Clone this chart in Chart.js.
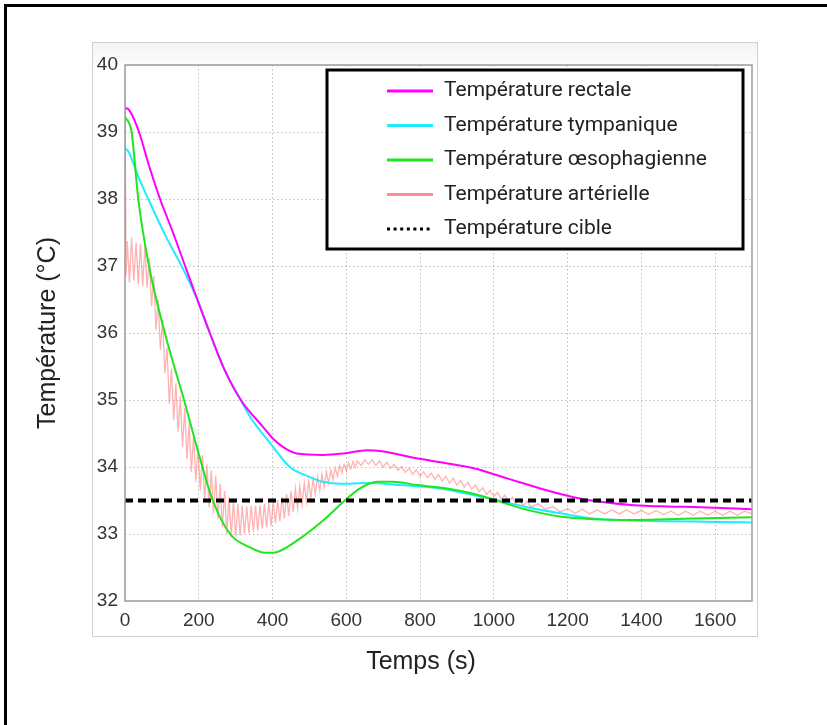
<!DOCTYPE html>
<html>
<head>
<meta charset="utf-8">
<script src="https://cdn.jsdelivr.net/npm/chart.js@4.4.1/dist/chart.umd.min.js"></script>
<style>
    body { margin: 0; background: #fff; overflow: hidden; }
    .frame { position: absolute; left: 4px; top: 4px; width: 900px; height: 900px; border-left: 3px solid #000; border-top: 3px solid #000; }
    #chart { position: absolute; left: 0; top: 0; }
</style>
</head>
<body>
<div class="frame"></div>
<canvas id="chart" width="827" height="725"></canvas>
<script>
// --- data ---
const xTitle = 'Temps (s)';
const yTitle = 'Température (°C)';
const seriesLabels = ['Température rectale', 'Température tympanique', 'Température œsophagienne', 'Température artérielle', 'Température cible'];

const rectalTime = [0, 11, 38, 65, 95, 130, 163, 196, 230, 270, 314, 374, 400, 428, 466, 537, 592, 657, 692, 773, 855, 945, 1036, 1126, 1216, 1289, 1379, 1470, 1560, 1700];
const rectalTemp = [39.36, 39.33, 39.0, 38.5, 38.0, 37.5, 37.0, 36.5, 36.0, 35.45, 35.0, 34.6, 34.43, 34.3, 34.2, 34.18, 34.2, 34.25, 34.24, 34.15, 34.07, 33.98, 33.83, 33.68, 33.55, 33.48, 33.43, 33.41, 33.4, 33.37];

const tympTime = [0, 10, 35, 63, 110, 158, 196, 230, 270, 314, 339, 393, 447, 501, 537, 583, 657, 746, 855, 928, 999, 1091, 1180, 1270, 1379, 1470, 1606, 1700];
const tympTemp = [38.76, 38.7, 38.35, 38.0, 37.45, 36.95, 36.5, 36.0, 35.45, 35.0, 34.75, 34.36, 34.0, 33.85, 33.78, 33.75, 33.76, 33.73, 33.68, 33.6, 33.52, 33.4, 33.31, 33.23, 33.2, 33.19, 33.18, 33.17];

const oesoTime = [0, 12, 18, 36, 65, 108, 160, 210, 238, 285, 339, 380, 401, 466, 537, 596, 637, 683, 727, 792, 873, 945, 1018, 1091, 1180, 1270, 1379, 1470, 1606, 1700];
const oesoTemp = [39.22, 39.12, 39.0, 38.0, 37.0, 36.0, 35.0, 34.0, 33.5, 33.0, 32.8, 32.72, 32.72, 32.9, 33.2, 33.5, 33.68, 33.78, 33.78, 33.73, 33.68, 33.6, 33.48, 33.36, 33.26, 33.22, 33.21, 33.22, 33.24, 33.25];

const arterialTime = [
    0, 3, 6, 12, 18, 24, 30, 36, 42, 48,
    54, 60, 66, 72, 78, 84, 90, 96, 102, 108,
    114, 120, 126, 132, 138, 144, 150, 156, 162, 168,
    174, 180, 186, 192, 198, 204, 210, 216, 222, 228,
    234, 240, 246, 252, 258, 264, 270, 276, 282, 288,
    294, 300, 306, 312, 318, 324, 330, 336, 342, 348,
    354, 360, 366, 372, 378, 384, 390, 396, 402, 408,
    414, 420, 426, 432, 438, 444, 450, 456, 462, 468,
    474, 480, 486, 492, 498, 504, 510, 516, 522, 528,
    534, 540, 546, 552, 558, 564, 570, 576, 582, 588,
    594, 600, 606, 612, 618, 624, 630, 640, 650, 660,
    670, 680, 690, 700, 710, 720, 730, 740, 750, 760,
    770, 780, 790, 800, 810, 820, 830, 840, 850, 860,
    870, 880, 890, 900, 910, 920, 930, 940, 950, 960,
    970, 980, 990, 1000, 1010, 1020, 1030, 1040, 1050, 1060,
    1070, 1080, 1090, 1100, 1120, 1140, 1160, 1180, 1200, 1220,
    1240, 1260, 1280, 1300, 1320, 1340, 1360, 1380, 1400, 1420,
    1440, 1460, 1480, 1500, 1520, 1540, 1560, 1580, 1600, 1620,
    1640, 1660, 1680, 1700
];
const arterialTemp = [
    39.5, 36.85, 37.37, 36.75, 37.42, 36.78, 37.35, 36.72, 37.33, 36.7,
    37.3, 36.68, 37.12, 36.4, 36.85, 36.05, 36.5, 35.75, 36.2, 35.4,
    35.78, 34.95, 35.47, 34.7, 35.25, 34.53, 35.06, 34.3, 34.88, 34.12,
    34.66, 33.93, 34.47, 33.78, 34.3, 33.65, 34.18, 33.5, 34.04, 33.4,
    33.95, 33.31, 33.87, 33.22, 33.75, 33.1, 33.64, 33.0, 33.55, 32.95,
    33.5, 32.96, 33.45, 32.98, 33.42, 33.0, 33.41, 33.01, 33.42, 33.03,
    33.42, 33.05, 33.43, 33.08, 33.45, 33.1, 33.46, 33.12, 33.48, 33.16,
    33.51, 33.19, 33.55, 33.23, 33.6, 33.27, 33.64, 33.33, 33.68, 33.38,
    33.72, 33.43, 33.76, 33.48, 33.79, 33.53, 33.83, 33.6, 33.86, 33.65,
    33.89, 33.7, 33.93, 33.76, 33.95, 33.81, 33.99, 33.86, 34.02, 33.91,
    34.04, 33.94, 34.06, 33.97, 34.08, 33.99, 34.09, 34.02, 34.11, 34.04,
    34.11, 34.02, 34.09, 34.0, 34.07, 33.98, 34.04, 33.95, 34.01, 33.92,
    33.98, 33.89, 33.96, 33.86, 33.93, 33.84, 33.91, 33.82, 33.89, 33.79,
    33.86, 33.76, 33.83, 33.73, 33.8, 33.7, 33.77, 33.67, 33.73, 33.63,
    33.69, 33.59, 33.65, 33.56, 33.62, 33.52, 33.58, 33.48, 33.55, 33.45,
    33.52, 33.42, 33.49, 33.4, 33.45, 33.37, 33.41, 33.33, 33.38, 33.31,
    33.37, 33.3, 33.36, 33.3, 33.36, 33.3, 33.36, 33.3, 33.35, 33.29,
    33.35, 33.29, 33.34, 33.28, 33.34, 33.28, 33.34, 33.28, 33.34, 33.28,
    33.34, 33.28, 33.34, 33.3
];

const targetTime = [0, 1700];
const targetTemp = [33.5, 33.5];

const xTicks = [0, 200, 400, 600, 800, 1000, 1200, 1400, 1600];
const yTicks = [32, 33, 34, 35, 36, 37, 38, 39, 40];

const toPoints = (xs, ys) => xs.map((x, i) => ({ x, y: ys[i] }));
const axisFont = '"Liberation Sans", Arial, sans-serif';

// grey figure box, plot frame, x title
const framePlugin = {
    id: 'frame',
    beforeDraw(chart) {
        const ctx = chart.ctx;
        ctx.save();
        const grad = ctx.createLinearGradient(0, 42, 0, 70);
        grad.addColorStop(0, '#f3f3f3');
        grad.addColorStop(1, '#ffffff');
        ctx.fillStyle = grad;
        ctx.fillRect(92, 42, 665, 594);
        ctx.strokeStyle = '#cfcfcf';
        ctx.lineWidth = 1;
        ctx.strokeRect(92.5, 42.5, 665, 594);
        ctx.restore();
    },
    afterDatasetsDraw(chart) {
        const { ctx, chartArea: a } = chart;
        ctx.save();
        ctx.strokeStyle = '#9c9c9c';
        ctx.lineWidth = 1.5;
        ctx.strokeRect(a.left, a.top, a.right - a.left, a.bottom - a.top);
        ctx.fillStyle = '#222';
        ctx.font = '25px ' + axisFont;
        ctx.textAlign = 'center';
        ctx.textBaseline = 'middle';
        ctx.fillText(xTitle, 421, 662);
        ctx.restore();
    }
};

// boxed legend drawn inside the plot, top right
const boxLegend = {
    id: 'boxLegend',
    afterDraw(chart) {
        const ctx = chart.ctx;
        const x = 327, y = 70, w = 416, h = 179;
        ctx.save();
        ctx.fillStyle = '#fff';
        ctx.fillRect(x, y, w, h);
        ctx.strokeStyle = '#000';
        ctx.lineWidth = 3;
        ctx.strokeRect(x, y, w, h);
        ctx.font = '21px Roboto, "Liberation Sans", sans-serif';
        ctx.textBaseline = 'middle';
        ctx.fillStyle = '#222';
        chart.data.datasets.forEach((ds, i) => {
            const ly = 91 + i * 34.5;
            ctx.beginPath();
            ctx.strokeStyle = ds.legendColor || ds.borderColor;
            ctx.lineWidth = 3;
            ctx.setLineDash(ds.legendDash || []);
            ctx.moveTo(387, ly);
            ctx.lineTo(433, ly);
            ctx.stroke();
            ctx.setLineDash([]);
            ctx.fillText(ds.label, 444, ly);
        });
        ctx.restore();
    }
};

new Chart(document.getElementById('chart'), {
    type: 'line',
    data: {
        datasets: [
            {
                label: seriesLabels[0],
                data: toPoints(rectalTime, rectalTemp),
                borderColor: '#ff00ff',
                borderWidth: 2,
                cubicInterpolationMode: 'monotone',
                order: 2
            },
            {
                label: seriesLabels[1],
                data: toPoints(tympTime, tympTemp),
                borderColor: '#22eaff',
                borderWidth: 2,
                cubicInterpolationMode: 'monotone',
                order: 3
            },
            {
                label: seriesLabels[2],
                data: toPoints(oesoTime, oesoTemp),
                borderColor: '#1ee61e',
                borderWidth: 2,
                cubicInterpolationMode: 'monotone',
                order: 1
            },
            {
                label: seriesLabels[3],
                data: toPoints(arterialTime, arterialTemp),
                borderColor: 'rgba(255, 115, 115, 0.55)',
                legendColor: '#ff8c8c',
                borderWidth: 1.3,
                tension: 0,
                order: 4
            },
            {
                label: seriesLabels[4],
                data: toPoints(targetTime, targetTemp),
                borderColor: '#000',
                borderWidth: 4,
                borderDash: [8, 5],
                legendDash: [3, 3.6],
                tension: 0,
                order: 0
            }
        ]
    },
    options: {
        responsive: false,
        animation: false,
        devicePixelRatio: 1,
        layout: { padding: { left: 5, top: 65, right: 75, bottom: 24 } },
        elements: { point: { radius: 0, hoverRadius: 0 } },
        plugins: { legend: { display: false }, tooltip: { enabled: false } },
        scales: {
            x: {
                type: 'linear',
                min: 0,
                max: 1700,
                afterFit: s => { s.height = 100; },
                afterBuildTicks: s => { s.ticks = xTicks.map(v => ({ value: v })); },
                ticks: { padding: 8, color: '#333', font: { size: 19, family: axisFont }, maxRotation: 0, callback: v => String(v) },
                grid: { color: '#bdbdbd', drawTicks: false },
                border: { display: false, dash: [1.5, 2.5] }
            },
            y: {
                min: 32,
                max: 40,
                afterFit: s => { s.width = 120; },
                afterBuildTicks: s => { s.ticks = yTicks.map(v => ({ value: v })); },
                ticks: { padding: 7, color: '#333', font: { size: 19, family: axisFont }, callback: v => String(v) },
                grid: { color: '#bdbdbd', drawTicks: false },
                border: { display: false, dash: [1.5, 2.5] },
                title: {
                    display: true,
                    text: yTitle,
                    color: '#222',
                    font: { size: 25, family: axisFont },
                    padding: { top: 28, bottom: 0 }
                }
            }
        }
    },
    plugins: [framePlugin, boxLegend]
});
</script>
</body>
</html>
